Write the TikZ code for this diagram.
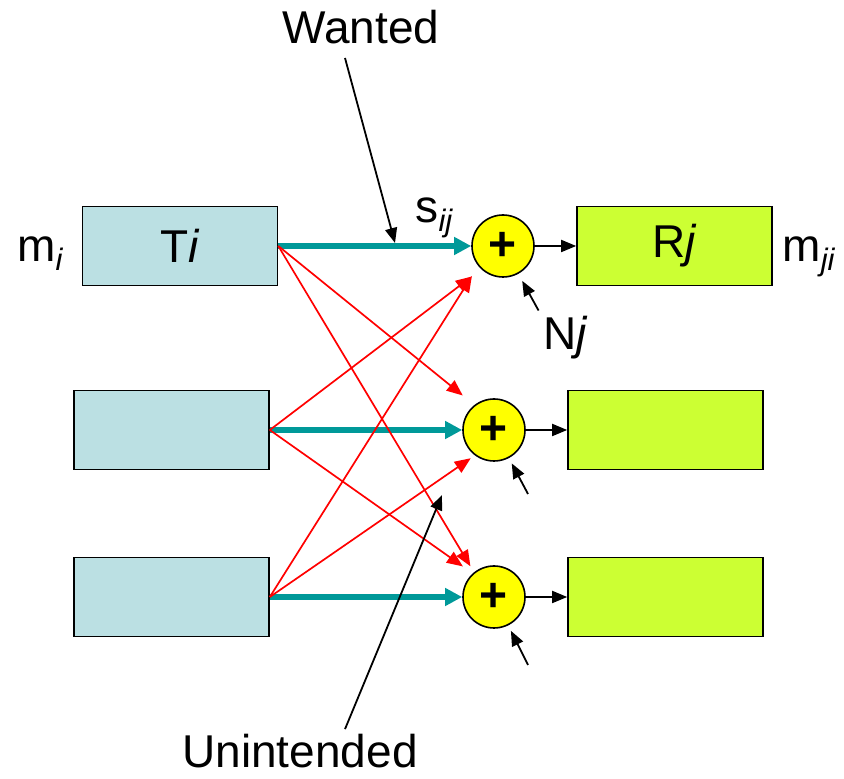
\documentclass[tikz,border=0pt]{standalone}
\usepackage{fontspec}
\setmainfont{Liberation Sans}
\usetikzlibrary{arrows.meta}
\usetikzlibrary{calc}
\definecolor{txblue}{HTML}{BBE0E3}
\definecolor{rxgreen}{HTML}{CCFF33}
\definecolor{sumyellow}{HTML}{FFFF00}
\definecolor{wantteal}{HTML}{009999}
\newcommand\lowidx[1]{\raisebox{-9pt}{\fontsize{31}{31}\selectfont\itshape #1}}
\def\rowA{533}
\def\rowB{349}
\def\rowC{182}

\begin{document}
\begin{tikzpicture}[
    x=1pt, y=1pt,
    every node/.style={
      font=\fontsize{46}{55}\selectfont
    },
    txbox/.style={
      draw, line width=1.6pt, fill=txblue,
      minimum width=195pt, minimum height=79pt
    },
    rxbox/.style={
      draw, line width=1.6pt, fill=rxgreen,
      minimum width=195pt, minimum height=79pt
    },
    sum/.style={
      circle, draw, line width=1.6pt, fill=sumyellow,
      minimum size=62pt, inner sep=0pt,
      font=\fontsize{48}{48}\selectfont\bfseries
    },
    wanted/.style={
      wantteal, line width=5.5pt,
      -{Triangle[length=17pt,width=17pt]}
    },
    cross/.style={
      red, line width=1.7pt,
      -{Triangle[length=16pt,width=13pt]}
    },
    pointer/.style={
      black, line width=1.8pt,
      -{Triangle[length=15pt,width=12pt]}
    }
  ]
    \useasboundingbox (0,0) rectangle (844,779);

    % transmitters
    \node[txbox] (TxA) at (180,\rowA) {T\textit{i}};
    \node[txbox] (TxB) at (171.5,\rowB) {};
    \node[txbox] (TxC) at (171.5,\rowC) {};

    % adders
    \node[sum] (SumA) at (503,\rowA) {+};
    \node[sum] (SumB) at (494,\rowB) {+};
    \node[sum] (SumC) at (494,\rowC) {+};

    % receivers
    \node[rxbox] (RxA) at (674.5,\rowA) {R\textit{j}};
    \node[rxbox] (RxB) at (665.5,\rowB) {};
    \node[rxbox] (RxC) at (665.5,\rowC) {};

    % labels
    \node[anchor=base east] (MsgIn) at (66,517) {m\lowidx{i}};
    \node[anchor=base west] (MsgOut) at (779,517) {m\lowidx{ji}};
    \node[anchor=base west] (SigLbl) at (412,556) {s\lowidx{ij}};
    \node[anchor=base west] (NzLbl) at (540,429) {N\textit{j}};
    \node[anchor=base] (Wanted) at (361,735) {Wanted};
    \node[anchor=base] (Unintended) at (300,11) {Unintended};

    \coordinate (WantTip) at (395,536);
    \coordinate (UnintTip) at (442,284);
    \coordinate (NzB) at (528,285);
    \coordinate (NzC) at (528,114);

    % wanted links
    \draw[wanted] (TxA.east) -- (SumA.west);
    \draw[wanted] (TxB.east) -- (SumB.west);
    \draw[wanted] (TxC.east) -- (SumC.west);

    % unintended links
    \draw[cross, shorten >=15pt] (TxA.east) -- (SumB.128);
    \draw[cross, shorten >=7pt] (TxA.east) -- (SumC.129);
    \draw[cross, shorten >=12pt] (TxB.east) -- (SumA.227);
    \draw[cross, shorten >=12pt] (TxB.east) -- (SumC.132);
    \draw[cross, shorten >=12pt] (TxC.east) -- (SumA.219);
    \draw[cross, shorten >=5pt] (TxC.east) -- (SumB.233);

    % adder outputs
    \draw[pointer] (SumA.east) -- (RxA.west);
    \draw[pointer] (SumB.east) -- (RxB.west);
    \draw[pointer] (SumC.east) -- (RxC.west);

    % noise
    \draw[pointer, shorten <=3pt, shorten >=8pt] (NzLbl.north west) -- (SumA);
    \draw[pointer, shorten >=6pt] (NzB) -- (SumB);
    \draw[pointer, shorten >=6pt] (NzC) -- (SumC);

    % callouts
    \draw[pointer] ($(Wanted.south)+(-16,-10)$) -- (WantTip);
    \draw[pointer] ($(Unintended.north)+(45,2)$) -- (UnintTip);
  \end{tikzpicture}
\end{document}
